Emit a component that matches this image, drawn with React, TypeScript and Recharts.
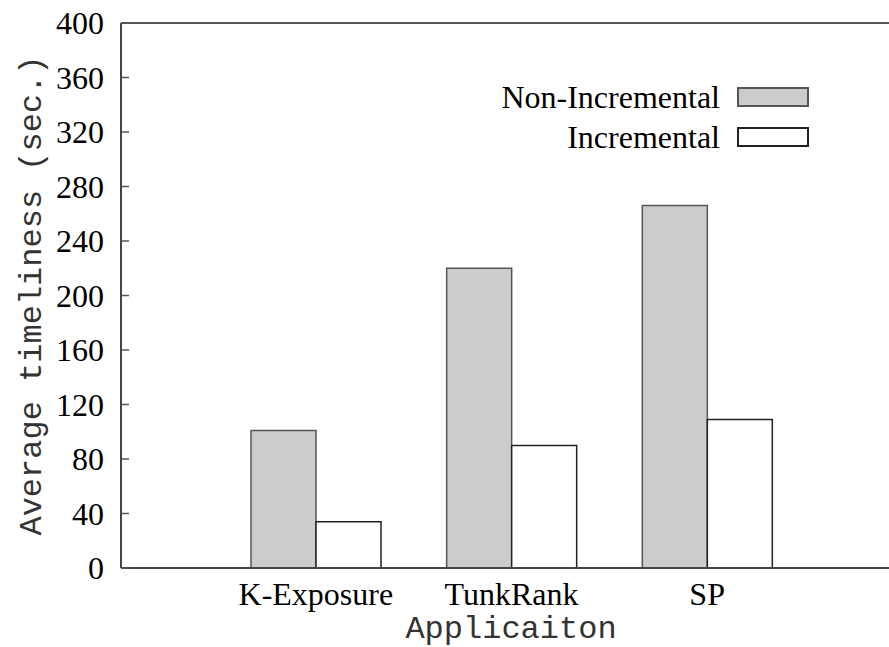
import { BarChart, Bar, XAxis, YAxis, ReferenceLine } from "recharts";

const apps = ["K-Exposure", "TunkRank", "SP"];
const nonIncremental = [101, 220, 266];
const incremental = [34, 90, 109];
const yTicks = [0, 40, 80, 120, 160, 200, 240, 280, 320, 360, 400];

const series = [
  { key: "nonInc", name: "Non-Incremental", fill: "#cccccc", stroke: "#555" },
  { key: "inc", name: "Incremental", fill: "#ffffff", stroke: "#222" },
];

const data = apps.map((app, i) => ({
  app,
  nonInc: nonIncremental[i],
  inc: incremental[i],
}));

const SERIF = "'Liberation Serif', 'Times New Roman', serif";
const MONO = "'Liberation Mono', 'Courier New', monospace";

function YTick(props: any) {
  const { x, y, payload } = props;
  return (
    <g>
      <line x1={x + 17} x2={x + 25} y1={y} y2={y} stroke="#555" strokeWidth={1.5} />
      <text x={x} y={y} dy="0.35em" textAnchor="end" fontFamily={SERIF} fontSize={32} fill="#000">
        {payload.value}
      </text>
    </g>
  );
}

function ChartLegend() {
  return (
    <div style={{ position: "absolute", top: 77, left: 400, width: 409 }}>
      {series.map((s) => (
        <div
          key={s.key}
          style={{ display: "flex", justifyContent: "flex-end", alignItems: "center", height: 40 }}
        >
          <span style={{ fontFamily: SERIF, fontSize: 32, color: "#000", lineHeight: "40px" }}>{s.name}</span>
          <span
            style={{
              display: "inline-block",
              marginLeft: 17,
              width: 68,
              height: 16,
              background: s.fill,
              border: `2px solid ${s.stroke}`,
            }}
          />
        </div>
      ))}
    </div>
  );
}

export default function App() {
  return (
    <div style={{ position: "absolute", left: 0, top: 0, width: 889, height: 647, background: "#fff" }}>
      <BarChart
        width={889}
        height={647}
        data={data}
        margin={{ top: 23, right: 0, bottom: 0, left: 0 }}
        barGap={0}
        barSize={65}
      >
        <XAxis
          dataKey="app"
          height={79}
          padding={{ left: 97, right: 84 }}
          axisLine={{ stroke: "#444", strokeWidth: 2 }}
          tickLine={false}
          tickSize={0}
          tickMargin={14}
          tick={{ fontFamily: SERIF, fontSize: 32, fill: "#000" }}
          label={{
            value: "Applicaiton",
            position: "insideBottom",
            offset: 9,
            dx: 6,
            style: { fontFamily: MONO, fontSize: 32, fill: "#333", textAnchor: "middle" },
          }}
        />
        <YAxis
          width={121}
          domain={[0, 400]}
          ticks={yTicks}
          interval={0}
          axisLine={{ stroke: "#444", strokeWidth: 2 }}
          tickLine={false}
          tickSize={0}
          tickMargin={17}
          tick={<YTick />}
          label={{
            value: "Average timeliness (sec.)",
            angle: -90,
            position: "insideLeft",
            offset: 30,
            style: { fontFamily: MONO, fontSize: 32, fill: "#333", textAnchor: "middle" },
          }}
        />
        <ReferenceLine y={400} stroke="#555" strokeWidth={2} />
        {series.map((s) => (
          <Bar
            key={s.key}
            dataKey={s.key}
            name={s.name}
            fill={s.fill}
            stroke={s.stroke}
            strokeWidth={1.5}
            isAnimationActive={false}
          />
        ))}
      </BarChart>
      <ChartLegend />
    </div>
  );
}
